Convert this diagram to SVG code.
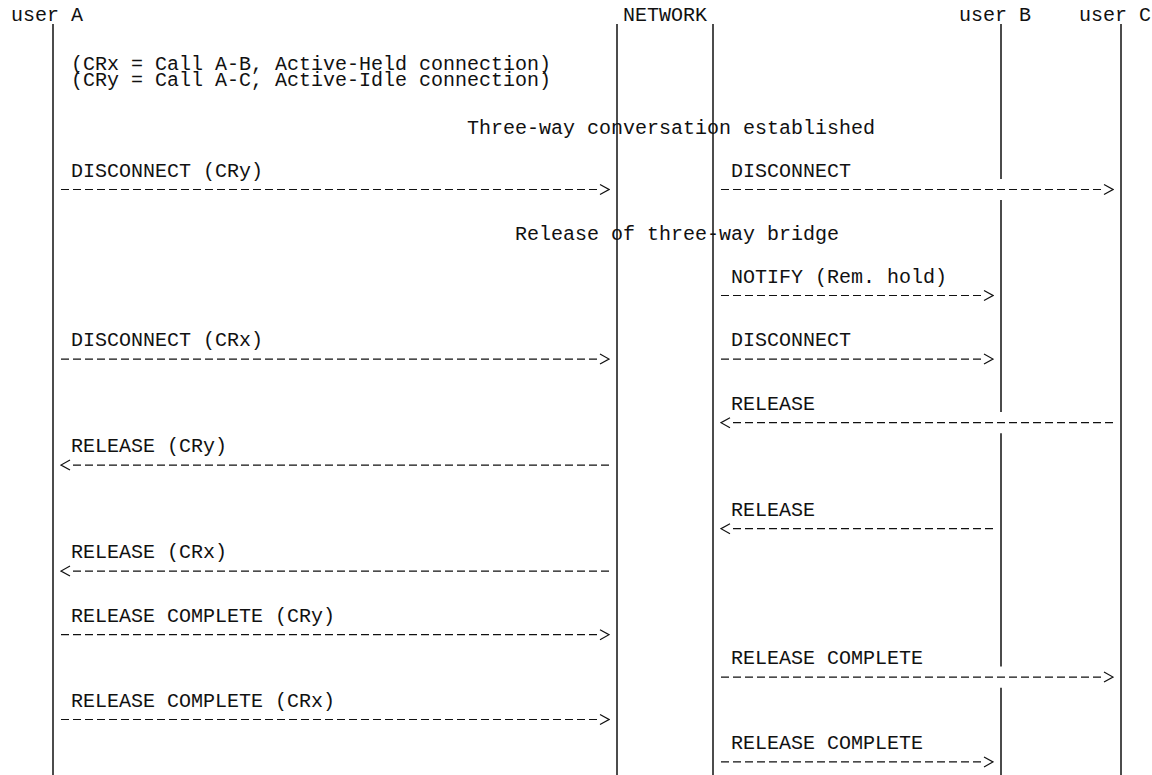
<svg xmlns="http://www.w3.org/2000/svg" width="1152" height="775" viewBox="0 0 1152 775">
<style>
  text { font-family: "Liberation Mono", "DejaVu Sans Mono", monospace; font-size: 20px; fill: #111; }
  .life { stroke: #111; stroke-width: 1.5; fill: none; }
  .msg { stroke: #111; stroke-width: 1.2; stroke-dasharray: 8 4; fill: none; marker-end: url(#arr); }
</style>
<defs>
  <marker id="arr" markerUnits="userSpaceOnUse" markerWidth="16" markerHeight="14" viewBox="-3 -7 16 14" refX="0" refY="0" orient="auto">
    <path d="M3,-5 L12,0 L3,5" fill="none" stroke="#111" stroke-width="1.2" stroke-dasharray="none"/>
  </marker>
</defs>
<rect width="1152" height="775" fill="#fff"/>

<g id="userA">
  <text x="11" y="21">user A</text>
  <line class="life" x1="53" y1="24" x2="53" y2="775"/>
</g>
<g id="network">
  <text x="623" y="21">NETWORK</text>
  <line class="life" x1="617" y1="24" x2="617" y2="775"/>
  <line class="life" x1="713" y1="24" x2="713" y2="775"/>
</g>
<g id="userB">
  <text x="959" y="21">user B</text>
  <path class="life" d="M1001,24V178.9M1001,200.1V412.1M1001,433.3V666.5M1001,687.7V775"/>
</g>
<g id="userC">
  <text x="1079" y="21">user C</text>
  <line class="life" x1="1121" y1="24" x2="1121" y2="775"/>
</g>

<g id="notes">
  <text x="71" y="69.5">(CRx = Call A-B, Active-Held connection)</text>
  <text x="71" y="85.5">(CRy = Call A-C, Active-Idle connection)</text>
  <text x="467" y="133.5">Three-way conversation established</text>
  <text x="515" y="240.3">Release of three-way bridge</text>
</g>

<g id="connectors">
  <g id="m1"><text x="71" y="176.5">DISCONNECT (CRy)</text><line class="msg" x1="61" y1="189.5" x2="597" y2="189.5"/></g>
  <g id="m2"><text x="731" y="176.5">DISCONNECT</text><line class="msg" x1="721" y1="189.5" x2="1101" y2="189.5"/></g>
  <g id="m3"><text x="731" y="282.5">NOTIFY (Rem. hold)</text><line class="msg" x1="721" y1="295.5" x2="981" y2="295.5"/></g>
  <g id="m4"><text x="71" y="346.1">DISCONNECT (CRx)</text><line class="msg" x1="61" y1="359.1" x2="597" y2="359.1"/></g>
  <g id="m5"><text x="731" y="346.1">DISCONNECT</text><line class="msg" x1="721" y1="359.1" x2="981" y2="359.1"/></g>
  <g id="m6"><text x="731" y="409.7">RELEASE</text><line class="msg" x1="1113" y1="422.7" x2="733" y2="422.7"/></g>
  <g id="m7"><text x="71" y="452.1">RELEASE (CRy)</text><line class="msg" x1="609" y1="465.1" x2="73" y2="465.1"/></g>
  <g id="m8"><text x="731" y="515.7">RELEASE</text><line class="msg" x1="993" y1="528.7" x2="733" y2="528.7"/></g>
  <g id="m9"><text x="71" y="558.1">RELEASE (CRx)</text><line class="msg" x1="609" y1="571.1" x2="73" y2="571.1"/></g>
  <g id="m10"><text x="71" y="621.7">RELEASE COMPLETE (CRy)</text><line class="msg" x1="61" y1="634.7" x2="597" y2="634.7"/></g>
  <g id="m11"><text x="731" y="664.1">RELEASE COMPLETE</text><line class="msg" x1="721" y1="677.1" x2="1101" y2="677.1"/></g>
  <g id="m12"><text x="71" y="706.5">RELEASE COMPLETE (CRx)</text><line class="msg" x1="61" y1="719.5" x2="597" y2="719.5"/></g>
  <g id="m13"><text x="731" y="748.9">RELEASE COMPLETE</text><line class="msg" x1="721" y1="761.9" x2="981" y2="761.9"/></g>
</g>
</svg>
